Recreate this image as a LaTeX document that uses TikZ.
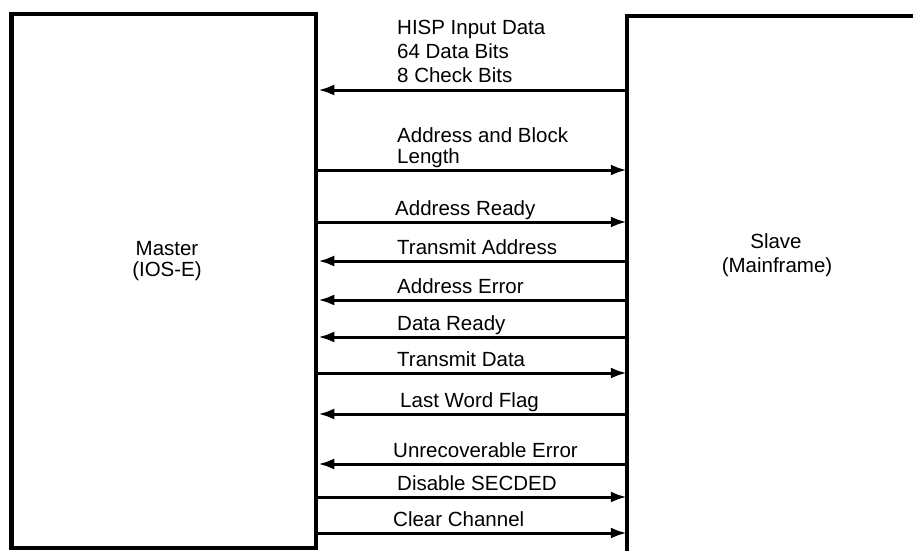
\documentclass[tikz,border=0pt]{standalone}
\usepackage{fontspec}
\setmainfont{Liberation Sans}
\usetikzlibrary{arrows.meta}
\begin{document}
\begin{tikzpicture}[x=1pt,y=-1pt,
  boxline/.style={line width=4.5pt},
  sig/.style={line width=3pt,-{Latex[length=16pt,width=11pt]}},
  lbl/.style={anchor=base west,inner sep=0pt,font=\fontsize{20.5}{23}\selectfont},
  ttl/.style={anchor=base,inner sep=0pt,font=\fontsize{20.5}{23}\selectfont}]
\useasboundingbox (0,0) rectangle (913,551);
\node[boxline,draw,rectangle,minimum width=304.5pt,minimum height=534pt,inner sep=0pt] (master) at (163.75,281) {};
\node[rectangle,minimum width=286pt,minimum height=535pt,inner sep=0pt] (slave) at (770,283.5) {};
\draw[boxline] (slave.north east) -- (slave.north west) -- (slave.south west);
\node[ttl] (m1) at (167,255) {Master};
\node[ttl] (m2) at (167,276) {(IOS-E)};
\node[ttl] (s1) at (776,248) {Slave};
\node[ttl] (s2) at (777,272) {(Mainframe)};
% labels
\node[lbl] (t1a) at (397,35) {HISP Input Data};
\node[lbl] (t1b) at (397,59) {64 Data Bits};
\node[lbl] (t1c) at (397,82) {8 Check Bits};
\node[lbl] (t2a) at (397,142) {Address and Block};
\node[lbl] (t2b) at (397,163) {Length};
\node[lbl] (t3) at (395,215) {Address Ready};
\node[lbl] (t4) at (397,254) {Transmit Address};
\node[lbl] (t5) at (397,293) {Address Error};
\node[lbl] (t6) at (397,330) {Data Ready};
\node[lbl] (t7) at (397,366) {Transmit Data};
\node[lbl] (t8) at (400,407) {Last Word Flag};
\node[lbl] (t9) at (393,457) {Unrecoverable Error};
\node[lbl] (t10) at (397,490) {Disable SECDED};
\node[lbl] (t11) at (393,526) {Clear Channel};
% signals
\draw[sig] (slave.west |- 0,90) -- (master.east |- 0,90);
\draw[sig] (master.east |- 0,170) -- (slave.west |- 0,170);
\draw[sig] (master.east |- 0,222) -- (slave.west |- 0,222);
\draw[sig] (slave.west |- 0,261) -- (master.east |- 0,261);
\draw[sig] (slave.west |- 0,300) -- (master.east |- 0,300);
\draw[sig] (slave.west |- 0,337) -- (master.east |- 0,337);
\draw[sig] (master.east |- 0,373) -- (slave.west |- 0,373);
\draw[sig] (slave.west |- 0,414) -- (master.east |- 0,414);
\draw[sig] (slave.west |- 0,464) -- (master.east |- 0,464);
\draw[sig] (master.east |- 0,497) -- (slave.west |- 0,497);
\draw[sig] (master.east |- 0,533) -- (slave.west |- 0,533);
\end{tikzpicture}
\end{document}
